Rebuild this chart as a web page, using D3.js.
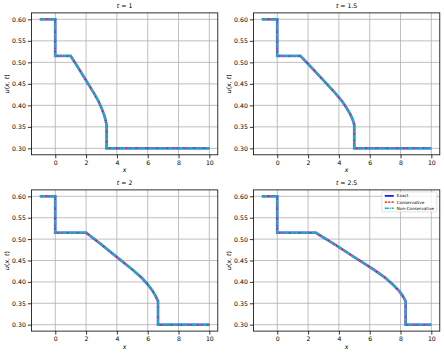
<!DOCTYPE html>
<html>
<head>
<meta charset="utf-8">
<script src="https://cdn.jsdelivr.net/npm/d3@7"></script>
<style>
  body { margin: 0; background: #fff; }
  svg { font-family: "DejaVu Sans", sans-serif; }
</style>
</head>
<body>
<div class="chart"></div>
<script>
// u profile along each panel (same shape, stretched in x with time)
const uValues = [0.60, 0.60, 0.515, 0.515, 0.487, 0.458, 0.429, 0.410, 0.394, 0.380, 0.368, 0.355, 0.30, 0.30];

// x positions for each time
const xT1  = [-1, 0, 0, 1.0, 1.5, 2.0, 2.5, 2.8, 3.0, 3.15, 3.25, 3.33, 3.33, 10];
const xT15 = [-1, 0, 0, 1.5, 2.25, 3.0, 3.75, 4.2, 4.5, 4.73, 4.88, 5.0, 5.0, 10];
const xT2  = [-1, 0, 0, 2.0, 3.0, 4.0, 5.0, 5.6, 6.0, 6.3, 6.5, 6.67, 6.67, 10];
const xT25 = [-1, 0, 0, 2.5, 3.75, 5.0, 6.25, 7.0, 7.5, 7.88, 8.13, 8.33, 8.33, 10];

const panelTitles = ['1', '1.5', '2', '2.5'];
const panelX = [xT1, xT15, xT2, xT25];

const xTicks = [0, 2, 4, 6, 8, 10];
const yTicks = [0.30, 0.35, 0.40, 0.45, 0.50, 0.55, 0.60];

const seriesNames = ['Exact', 'Conservative', 'Non-Conservative'];

const width = 444, height = 355;

const svg = d3.select('.chart')
  .append('svg')
  .attr('width', width)
  .attr('height', height);

// axes boxes [left, top, right, bottom]
const boxes = [
  [31.4, 12.9, 217.8, 154.8],
  [253.4, 12.9, 439.8, 154.8],
  [31.4, 189.9, 217.8, 331.1],
  [253.4, 189.9, 439.8, 331.1]
];

const styles = [
  { color: '#0000ff', w: 2.8, dash: null, op: 0.55 },
  { color: '#ff0000', w: 1.5, dash: '3,2.2', op: 1 },
  { color: '#00bfbf', w: 1.8, dash: '6,1.2,1.2,1.2', op: 0.95 }
];

boxes.forEach((b, i) => {
  const [l, t, r, bt] = b;
  const g = svg.append('g');

  const x = d3.scaleLinear().domain([-1.55, 10.55]).range([l, r]);
  const y = d3.scaleLinear().domain([0.285, 0.615]).range([bt, t]);

  // grid
  g.append('g').selectAll('line').data(xTicks).join('line')
    .attr('x1', d => x(d)).attr('x2', d => x(d))
    .attr('y1', t).attr('y2', bt)
    .attr('stroke', '#b0b0b0').attr('stroke-width', 0.8);
  g.append('g').selectAll('line').data(yTicks).join('line')
    .attr('x1', l).attr('x2', r)
    .attr('y1', d => y(d)).attr('y2', d => y(d))
    .attr('stroke', '#b0b0b0').attr('stroke-width', 0.8);

  // lines
  const clipId = 'clip' + i;
  svg.append('clipPath').attr('id', clipId)
    .append('rect').attr('x', l).attr('y', t).attr('width', r - l).attr('height', bt - t);

  const pts = panelX[i].map((xv, k) => [xv, uValues[k]]);
  const line = d3.line().x(d => x(d[0])).y(d => y(d[1]));

  styles.forEach(s => {
    g.append('path')
      .attr('clip-path', `url(#${clipId})`)
      .attr('d', line(pts))
      .attr('fill', 'none')
      .attr('stroke', s.color)
      .attr('stroke-width', s.w)
      .attr('stroke-opacity', s.op)
      .attr('stroke-dasharray', s.dash);
  });

  // axes
  g.append('g')
    .attr('transform', `translate(0,${bt})`)
    .call(d3.axisBottom(x).tickValues(xTicks).tickSize(3.5).tickPadding(2).tickFormat(d3.format('d')))
    .call(a => a.select('.domain').remove())
    .call(a => a.selectAll('text').attr('font-size', 6.2).attr('font-family', 'DejaVu Sans').attr('fill', '#000'))
    .call(a => a.selectAll('line').attr('stroke-width', 0.8));
  g.append('g')
    .attr('transform', `translate(${l},0)`)
    .call(d3.axisLeft(y).tickValues(yTicks).tickSize(3.5).tickPadding(2).tickFormat(d3.format('.2f')))
    .call(a => a.select('.domain').remove())
    .call(a => a.selectAll('text').attr('font-size', 6.2).attr('font-family', 'DejaVu Sans').attr('fill', '#000'))
    .call(a => a.selectAll('line').attr('stroke-width', 0.8));

  // frame
  g.append('rect')
    .attr('x', l).attr('y', t).attr('width', r - l).attr('height', bt - t)
    .attr('fill', 'none').attr('stroke', '#000').attr('stroke-width', 0.8);

  // title
  const title = g.append('text')
    .attr('x', (l + r) / 2).attr('y', t - 4.5)
    .attr('text-anchor', 'middle').attr('font-size', 6.2);
  title.append('tspan').attr('font-style', 'italic').text('t');
  title.append('tspan').text(' = ' + panelTitles[i]);

  // x label
  g.append('text')
    .attr('x', (l + r) / 2).attr('y', bt + 17.5)
    .attr('text-anchor', 'middle').attr('font-size', 6.2)
    .attr('font-style', 'italic').text('x');

  // y label
  const yl = g.append('text')
    .attr('transform', `translate(${l - 22.5},${(t + bt) / 2}) rotate(-90)`)
    .attr('text-anchor', 'middle').attr('font-size', 6.2);
  yl.append('tspan').attr('font-style', 'italic').text('u');
  yl.append('tspan').text('(');
  yl.append('tspan').attr('font-style', 'italic').text('x');
  yl.append('tspan').text(', ');
  yl.append('tspan').attr('font-style', 'italic').text('t');
  yl.append('tspan').text(')');

  // legend on the last panel
  if (i === 3) {
    const lg = g.append('g').attr('transform', `translate(${r - 58},${t + 2})`);
    lg.append('rect')
      .attr('width', 55).attr('height', 20).attr('rx', 1.5)
      .attr('fill', '#fff').attr('fill-opacity', 0.8)
      .attr('stroke', '#ccc').attr('stroke-width', 0.6);
    seriesNames.forEach((name, k) => {
      const yy = 4 + k * 6.2;
      lg.append('line')
        .attr('x1', 3).attr('x2', 12).attr('y1', yy).attr('y2', yy)
        .attr('stroke', styles[k].color)
        .attr('stroke-width', k === 0 ? 1.6 : 1.4)
        .attr('stroke-dasharray', k === 1 ? '2.2,1.2' : (k === 2 ? '4,1,1,1' : null));
      lg.append('text')
        .attr('x', 15).attr('y', yy + 1.5)
        .attr('font-size', 4.2).text(name);
    });
  }
});
</script>
</body>
</html>
